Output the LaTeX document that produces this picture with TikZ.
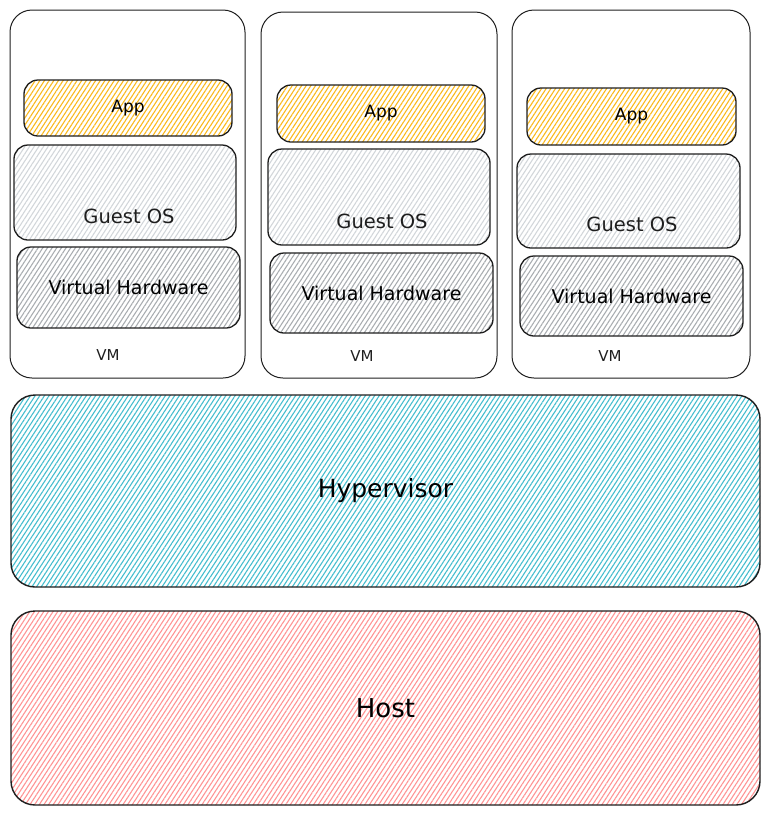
\documentclass[tikz,border=0pt]{standalone}
\usepackage{fontspec}
\setmainfont{DejaVu Sans}
\usetikzlibrary{patterns.meta}
\definecolor{appc}{HTML}{F9B81E}
\definecolor{gosc}{HTML}{D2D6DA}
\definecolor{vhc}{HTML}{A9ADB1}
\definecolor{hypc}{HTML}{45BDCE}
\definecolor{hostc}{HTML}{FF9494}
\definecolor{inkc}{HTML}{1E1E1E}
\tikzset{
  vmbox/.style={draw=inkc, line width=1pt, rounded corners=22pt, inner sep=0pt},
  layer/.style={draw=inkc, line width=1.3pt, rounded corners=14pt, inner sep=0pt,
    font=\fontsize{19}{22}\selectfont},
  big/.style={draw=inkc, line width=1.4pt, rounded corners=24pt, inner sep=0pt,
    font=\fontsize{25}{30}\selectfont},
  hatch/.style={pattern={Lines[angle=57,distance=3.9pt,line width=1.1pt]}, pattern color=#1},
  lbl/.style={inner sep=0pt, font=\fontsize{19.5}{22}\selectfont, text=inkc},
  vmlbl/.style={inner sep=0pt, font=\fontsize{15}{18}\selectfont, text=inkc}
}
\begin{document}
\begin{tikzpicture}[x=1pt,y=-1pt]
\useasboundingbox (0,0) rectangle (769,815);
% VM 1
\node[vmbox, minimum width=235pt, minimum height=368pt] (vm1) at (127.5,194) {};
\node[layer, hatch=appc, minimum width=208pt, minimum height=56pt, font=\fontsize{17}{20}\selectfont] (app1) at (128,108) {App};
\node[layer, hatch=gosc, minimum width=222pt, minimum height=95pt] (gos1) at (125,192.5) {};
\node[lbl] (gos1t) at (129,216) {Guest OS};
\node[layer, hatch=vhc, minimum width=223pt, minimum height=81pt] (vh1) at (128.5,287.5) {Virtual Hardware};
\node[vmlbl] (vm1t) at (108,355) {VM};
% VM 2
\node[vmbox, minimum width=236pt, minimum height=366pt] (vm2) at (379,195) {};
\node[layer, hatch=appc, minimum width=208pt, minimum height=57pt, font=\fontsize{17}{20}\selectfont] (app2) at (381,113.5) {App};
\node[layer, hatch=gosc, minimum width=222pt, minimum height=96pt] (gos2) at (379,197) {};
\node[lbl] (gos2t) at (382,221) {Guest OS};
\node[layer, hatch=vhc, minimum width=223pt, minimum height=80pt] (vh2) at (381.5,293) {Virtual Hardware};
\node[vmlbl] (vm2t) at (362,356) {VM};
% VM 3
\node[vmbox, minimum width=238pt, minimum height=368pt] (vm3) at (631,194) {};
\node[layer, hatch=appc, minimum width=209pt, minimum height=57pt, font=\fontsize{17}{20}\selectfont] (app3) at (631.5,116.5) {App};
\node[layer, hatch=gosc, minimum width=223pt, minimum height=94pt] (gos3) at (628.5,201) {};
\node[lbl] (gos3t) at (632,224) {Guest OS};
\node[layer, hatch=vhc, minimum width=223pt, minimum height=80pt] (vh3) at (631.5,296) {Virtual Hardware};
\node[vmlbl] (vm3t) at (610,356) {VM};
% Hypervisor and Host
\node[big, hatch=hypc, minimum width=749pt, minimum height=192pt] (hyp) at (385.5,491) {Hypervisor};
\node[big, hatch=hostc, minimum width=749pt, minimum height=194pt, font=\fontsize{26}{30}\selectfont] (host) at (385.5,708) {Host};
\end{tikzpicture}
\end{document}
